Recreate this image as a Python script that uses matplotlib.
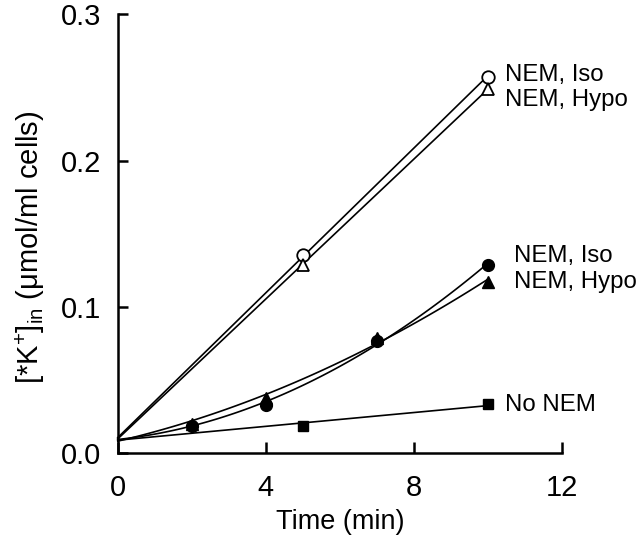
import numpy as np
import matplotlib
matplotlib.use("Agg")
import matplotlib.pyplot as plt

plt.rcParams['font.family'] = ['Liberation Sans', 'DejaVu Sans']
plt.rcParams['mathtext.fontset'] = 'custom'
plt.rcParams['mathtext.rm'] = 'Liberation Sans'
plt.rcParams['mathtext.it'] = 'Liberation Sans'

# start value shared by all curves (t = 0)
t0 = 0.0
k0 = 0.01

# NEM, open symbols (measured at 5 and 10 min)
t_open = [5, 10]
iso_open = [0.1356, 0.2573]
hypo_open = [0.1288, 0.249]

# NEM, filled symbols
t_fill = [2, 4, 7, 10]
iso_fill = [0.0185, 0.0329, 0.0769, 0.1288]
hypo_fill = [0.0200, 0.0380, 0.0790, 0.1173]

# no NEM
t_none = [5, 10]
none_vals = [0.0185, 0.0336]

x_ticks = [0, 4, 8, 12]
y_ticks = [0.0, 0.1, 0.2, 0.3]

fig = plt.figure(figsize=(6.4, 5.46), dpi=100)
ax = fig.add_axes([0.184, 0.170, 0.694, 0.804])


def fit_line(t, y, deg):
    tt = np.r_[t0, t]
    yy = np.r_[k0, y]
    p = np.polyfit(tt, yy, deg)
    xs = np.linspace(0, max(t), 100)
    return xs, np.polyval(p, xs)


lw = 1.2
for t, y, deg in [(t_open, iso_open, 1), (t_open, hypo_open, 1),
                  (t_fill, iso_fill, 2), (t_fill, hypo_fill, 2),
                  (t_none, none_vals, 1)]:
    xs, ys = fit_line(t, y, deg)
    ax.plot(xs, ys, color='black', lw=lw, zorder=2, clip_on=False)

ax.plot(t_open, iso_open, 'o', ms=9, mfc='white', mec='black', mew=1.3, zorder=3, clip_on=False)
ax.plot(t_open, hypo_open, '^', ms=9, mfc='white', mec='black', mew=1.3, zorder=3, clip_on=False)
ax.plot(t_fill, hypo_fill, '^', ms=8.5, color='black', zorder=3, clip_on=False)
ax.plot(t_fill, iso_fill, 'o', ms=8.5, color='black', zorder=3, clip_on=False)
ax.plot(t_none, none_vals, 's', ms=7, color='black', zorder=3, clip_on=False)

fs_lab = 17.3
ax.text(10.47, 0.2585, 'NEM, Iso', fontsize=fs_lab, va='center')
ax.text(10.47, 0.2412, 'NEM, Hypo', fontsize=fs_lab, va='center')
ax.text(10.7, 0.1349, 'NEM, Iso', fontsize=fs_lab, va='center')
ax.text(10.7, 0.1170, 'NEM, Hypo', fontsize=fs_lab, va='center')
ax.text(10.47, 0.0330, 'No NEM', fontsize=fs_lab, va='center')

ax.set_xlim(0, 12)
ax.set_ylim(0, 0.3)
ax.set_xticks(x_ticks)
ax.set_yticks(y_ticks)
ax.set_yticklabels([f'{v:.1f}' for v in y_ticks])
ax.spines['top'].set_visible(False)
ax.spines['right'].set_visible(False)
for s in ['left', 'bottom']:
    ax.spines[s].set_linewidth(1.8)
ax.tick_params(axis='both', direction='in', width=1.8, labelsize=21)
ax.tick_params(axis='x', length=8, pad=15)
ax.tick_params(axis='y', length=7, pad=12)

ax.set_xlabel('Time (min)', fontsize=19.5, labelpad=5)
ax.set_ylabel(r'[*K$^{+}$]$_{\mathrm{in}}$ (μmol/ml cells)', fontsize=21)
ax.yaxis.set_label_coords(-0.16, 0.47)

fig.savefig('out.png', dpi=100)
